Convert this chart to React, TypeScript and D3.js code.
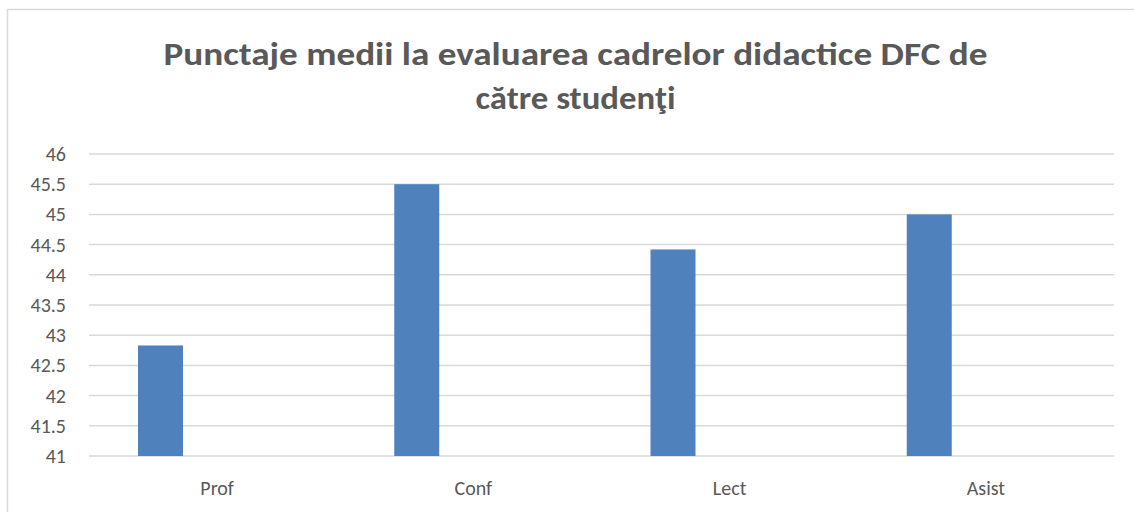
import React from "react";
import * as d3 from "d3";

const categories = ["Prof", "Conf", "Lect", "Asist"];
const values = [42.83, 45.5, 44.42, 45.0];
const yTicks = [41, 41.5, 42, 42.5, 43, 43.5, 44, 44.5, 45, 45.5, 46];
const titleLines = ["Punctaje medii la evaluarea cadrelor didactice DFC de", "către studenţi"];

const W = 1134;
const H = 512;
const plot = { left: 89, right: 1114, top: 154, bottom: 456 };

export default function App() {
  const x = d3.scaleBand<string>().domain(categories).range([plot.left, plot.right]).padding(0);
  const y = d3.scaleLinear().domain([41, 46]).range([plot.bottom, plot.top]);
  const bw = x.bandwidth();
  const barOffset = bw * (49 / 256.25);
  const barWidth = bw * (45 / 256.25);
  const font = "Carlito, Calibri, 'Open Sans', 'Liberation Sans', sans-serif";
  const textColor = "#595959";

  return (
    <div style={{ position: "fixed", left: 0, top: 0 }}>
      <svg width={W} height={H} style={{ display: "block" }}>
        <rect x={0} y={0} width={W} height={H} fill="#fff" />
        <rect x={7.5} y={9.5} width={W + 10} height={H + 10} fill="none" stroke="#d9d9d9" strokeWidth={1.5} />
        {titleLines.map((t, i) => (
          <text
            key={i}
            x={(plot.left + plot.right) / 2 - 26}
            y={65 + i * 44}
            textAnchor="middle"
            fontFamily={font}
            fontWeight="bold"
            fontSize={32}
            fill={textColor}
            textLength={i === 0 ? 824 : 200}
            lengthAdjust="spacingAndGlyphs"
          >
            {t}
          </text>
        ))}
        {yTicks.map((t) => (
          <g key={t}>
            <line x1={plot.left} x2={plot.right} y1={y(t)} y2={y(t)} stroke="#d9d9d9" strokeWidth={1.5} />
            <text x={66} y={y(t) + 7} textAnchor="end" fontFamily={font} fontSize={20} fill={textColor}>
              {t}
            </text>
          </g>
        ))}
        {categories.map((c, i) => (
          <g key={c}>
            <rect
              x={(x(c) as number) + barOffset}
              y={y(values[i])}
              width={barWidth}
              height={y(41) - y(values[i])}
              fill="#4f81bd"
            />
            <text
              x={(x(c) as number) + bw / 2}
              y={495}
              textAnchor="middle"
              fontFamily={font}
              fontSize={20}
              fill={textColor}
            >
              {c}
            </text>
          </g>
        ))}
      </svg>
    </div>
  );
}
